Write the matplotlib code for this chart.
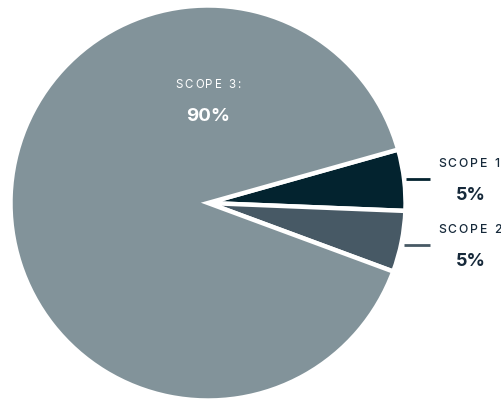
import matplotlib
matplotlib.use("Agg")
import matplotlib.pyplot as plt
from matplotlib.transforms import IdentityTransform

# Data
labels = ["SCOPE 1:", "SCOPE 2:", "SCOPE 3:"]
shares = [5, 5, 90]
pct_labels = ["5%", "5%", "90%"]
colors = ["#03232f", "#475965", "#82939a"]
explode = [0.035, 0.025, 0.0]

W, H = 502, 402
fig = plt.figure(figsize=(W / 100, H / 100), dpi=100)
ax = fig.add_axes([0, 0, 1, 1])

# Pie, image centre (208, 204)
ax.pie(shares, colors=colors, explode=explode, center=(208, H - 204), radius=197.5,
       startangle=15.7, counterclock=False,
       wedgeprops=dict(edgecolor="white", linewidth=3.2))

# pie resets the limits, so set them afterwards
ax.set_xlim(0, W)
ax.set_ylim(0, H)
ax.set_aspect("equal")
ax.axis("off")

renderer = fig.canvas.get_renderer()


def spaced_text(x, y, s, size, color, spacing, weight="normal", align="left"):
    # draw text char by char with extra letter spacing (x, y in image px)
    widths = []
    for ch in s:
        t2 = fig.text(0, 0, "x" + ch + "x", fontsize=size, family="Inter", weight=weight)
        t3 = fig.text(0, 0, "xx", fontsize=size, family="Inter", weight=weight)
        w = t2.get_window_extent(renderer).width - t3.get_window_extent(renderer).width
        t2.remove(); t3.remove()
        widths.append(w)
    total = sum(widths) + spacing * (len(s) - 1)
    if align == "center":
        x = x - total / 2
    cx = x
    for ch, w in zip(s, widths):
        fig.text(cx, H - y, ch, fontsize=size, family="Inter", weight=weight,
                 color=color, va="center", ha="left", transform=IdentityTransform())
        cx += w + spacing


dark = "#16293a"

# Scope 3 label inside the big slice
spaced_text(208, 85, labels[2], 8.3, "white", 1.8, align="center")
ax.text(208, H - 116.5, pct_labels[2], fontsize=13.5, weight="bold", color="white",
        family="Inter", ha="center", va="center")

# Scope 1 and 2 labels with leader lines
ax.plot([406, 430], [H - 180, H - 180], color=colors[0], lw=2, solid_capstyle="butt")
ax.plot([404, 430], [H - 245.5, H - 245.5], color=colors[1], lw=2, solid_capstyle="butt")

spaced_text(438, 164, labels[0], 8.8, dark, 2.0, weight="medium")
ax.text(471, H - 195.5, pct_labels[0], fontsize=13, weight="bold", color=dark,
        family="Inter", ha="center", va="center")
spaced_text(438, 230.5, labels[1], 8.8, dark, 2.0, weight="medium")
ax.text(471, H - 262, pct_labels[1], fontsize=13, weight="bold", color=dark,
        family="Inter", ha="center", va="center")

fig.savefig("out.png", dpi=100)
